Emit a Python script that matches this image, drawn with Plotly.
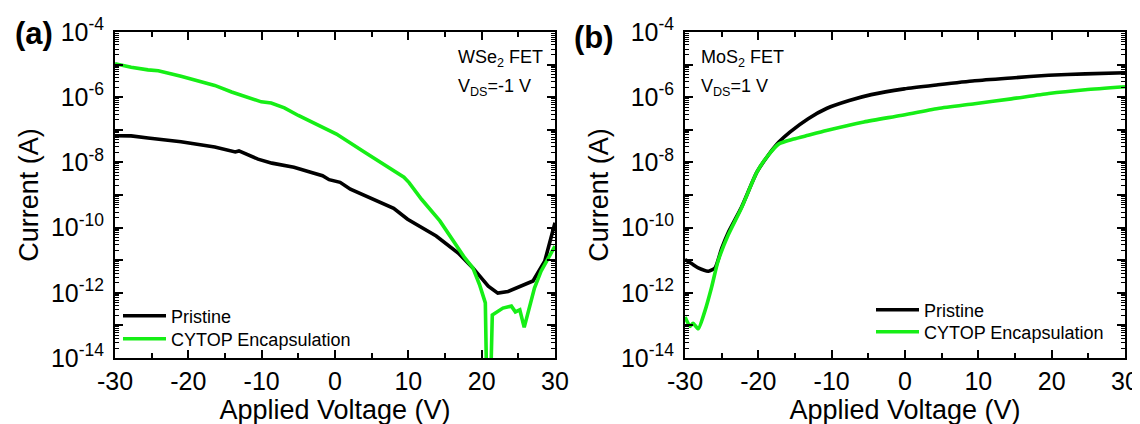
import plotly.graph_objects as go

# ---------------- data ----------------
# Panel (a): WSe2 FET, VDS = -1 V
a_pristine_v = [-30, -27.8, -25.5, -21.0, -16.4, -15.4, -13.6, -13.1, -12.0, -10.5, -8.6, -6.6, -5.6, -3.2,
                -1.7, -0.8, 0.7, 2.1, 4.1, 6.0, 8.0, 9.9, 11.8, 13.8, 16.8, 18.8, 20.9, 22.2, 23.6, 25.4,
                27.0, 28.6, 30]
a_pristine_i = [6.6e-8, 6.5e-8, 5.6e-8, 4.3e-8, 2.95e-8, 2.6e-8, 2.1e-8, 2.25e-8, 1.8e-8, 1.26e-8, 9.5e-9,
                7.9e-9, 7.1e-9, 4.9e-9, 3.9e-9, 2.95e-9, 2.45e-9, 1.5e-9, 9.3e-10, 6.2e-10, 3.9e-10,
                1.8e-10, 1.0e-10, 5.5e-11, 1.66e-11, 5.8e-12, 1.6e-12, 9.8e-13, 1.1e-12, 1.6e-12, 2.3e-12,
                9.3e-12, 1.4e-10]

a_cytop_v = [-30, -27.8, -25.5, -24.1, -21.0, -18.7, -16.4, -14.1, -11.9, -10.05, -8.7, -6.9, -5.0, -1.8,
             0.2, 4.1, 7.0, 9.4, 10.1, 11.8, 14.3, 16.2, 17.7, 18.8, 19.7, 20.5, 20.7, 21.2, 21.45, 22.9,
             24.05, 24.6, 25.2, 25.8, 26.5, 27.2, 28.1, 30]
a_cytop_i = [1.07e-5, 8.3e-6, 6.9e-6, 6.5e-6, 4.4e-6, 3.2e-6, 2.3e-6, 1.45e-6, 1.0e-6, 7.2e-7, 6.6e-7,
             4.7e-7, 2.75e-7, 1.2e-7, 7.4e-8, 2.0e-8, 7.9e-9, 3.5e-9, 2.4e-9, 7.4e-10, 1.6e-10, 3.5e-11,
             1.17e-11, 5.8e-12, 1.8e-12, 4.9e-13, 1e-15, 1e-15, 2.1e-13, 3.4e-13, 3.9e-13, 2.6e-13,
             3.0e-13, 8.7e-14, 3.4e-13, 1.4e-12, 4.6e-12, 2.7e-11]

# Panel (b): MoS2 FET, VDS = 1 V
b_pristine_v = [-30, -29, -28.2, -26.8, -25.9, -25.0, -24.1, -22.3, -20.2, -18.7, -17.2, -15.7, -13.2,
                -10.7, -7.6, -4.6, -0.1, 4.5, 9.5, 14.5, 19.6, 24.6, 30]
b_pristine_i = [1.05e-11, 7.6e-12, 5.8e-12, 4.6e-12, 5.8e-12, 2.3e-11, 7.1e-11, 4.2e-10, 5.0e-9, 1.6e-8,
                4.2e-8, 8.5e-8, 2.2e-7, 4.5e-7, 7.9e-7, 1.2e-6, 1.8e-6, 2.4e-6, 3.2e-6, 3.9e-6, 4.7e-6,
                5.2e-6, 5.6e-6]

b_cytop_v = [-30, -29.3, -28.9, -28.2, -27.3, -26.4, -25.5, -24.1, -22.3, -20.2, -18.7, -17.2, -15.2,
             -13.2, -10.7, -5.6, -0.6, 4.5, 9.5, 14.5, 19.6, 24.6, 30]
b_cytop_i = [1.8e-13, 9.3e-14, 1.17e-13, 7.9e-14, 2.7e-13, 1.4e-12, 9.3e-12, 6.0e-11, 4.0e-10, 5.0e-9,
             1.6e-8, 3.7e-8, 5.2e-8, 6.8e-8, 9.5e-8, 1.74e-7, 2.75e-7, 4.5e-7, 6.3e-7, 8.9e-7, 1.3e-6,
             1.7e-6, 2.1e-6]

series_names = ["Pristine", "CYTOP Encapsulation"]
x_ticks = [-30, -20, -10, 0, 10, 20, 30]
x_ticktext = ["-30", "-20", "-10", "0", "10", "20", "30"]
y_exponents = list(range(-14, -3))
x_title = "Applied Voltage (V)"
y_title = "Current (A)"

# ---------------- styling ----------------
FONT = "Liberation Sans, Arial, sans-serif"
BLACK = "#000000"
GREEN = "#16EE16"
LW = 3.6

fig = go.Figure()
fig.add_trace(go.Scatter(x=a_pristine_v, y=a_pristine_i, mode="lines", name=series_names[0],
                         line=dict(color=BLACK, width=LW), xaxis="x", yaxis="y", legend="legend"))
fig.add_trace(go.Scatter(x=a_cytop_v, y=a_cytop_i, mode="lines", name=series_names[1],
                         line=dict(color=GREEN, width=LW), xaxis="x", yaxis="y", legend="legend2"))
fig.add_trace(go.Scatter(x=b_pristine_v, y=b_pristine_i, mode="lines", name=series_names[0],
                         line=dict(color=BLACK, width=LW, shape="spline", smoothing=0.6),
                         xaxis="x2", yaxis="y2", legend="legend3"))
fig.add_trace(go.Scatter(x=b_cytop_v, y=b_cytop_i, mode="lines", name=series_names[1],
                         line=dict(color=GREEN, width=LW, shape="spline", smoothing=0.6),
                         xaxis="x2", yaxis="y2", legend="legend4"))

W, H = 1140, 424
ydom = [1 - 350 / H, 1 - 24 / H]
xdom_a = [107 / W, 547 / W]
xdom_b = [677 / W, 1117 / W]

y_tickvals = [10.0 ** e for e in y_exponents]
y_ticktext = [("10<sup>%d</sup>" % e) if e % 2 == 0 else "" for e in y_exponents]
minor_vals = [m * 10.0 ** e for e in range(-14, -4) for m in range(2, 10)]


def xaxis(dom, anchor):
    return dict(domain=dom, anchor=anchor, range=[-30, 30], tickmode="array", tickvals=x_ticks,
                ticktext=x_ticktext, automargin=False,
                ticks="inside", ticklen=8, tickwidth=1.5, tickcolor=BLACK,
                minor=dict(dtick=5, tick0=0, ticks="inside", ticklen=5, tickwidth=1.5, tickcolor=BLACK),
                showline=True, linecolor=BLACK, linewidth=2, mirror="ticks", showgrid=False,
                zeroline=False, tickfont=dict(family=FONT, size=25, color=BLACK),
                title=dict(text=x_title, font=dict(family=FONT, size=27, color=BLACK), standoff=2))


def yaxis(anchor):
    return dict(domain=ydom, anchor=anchor, type="log", range=[-14, -4], tickmode="array",
                tickvals=y_tickvals, ticktext=y_ticktext, automargin=False, ticklabelstandoff=4,
                ticks="inside", ticklen=8, tickwidth=1.5, tickcolor=BLACK,
                minor=dict(tickmode="array", tickvals=minor_vals, ticks="inside", ticklen=4,
                           tickwidth=1, tickcolor=BLACK),
                showline=True, linecolor=BLACK, linewidth=2, mirror="ticks", showgrid=False,
                zeroline=False, tickfont=dict(family=FONT, size=25, color=BLACK),
                title=dict(text=y_title, font=dict(family=FONT, size=27, color=BLACK), standoff=4))


def legend_at(px, py):
    return dict(x=px / W, y=1 - py / H, xanchor="left", yanchor="middle",
                font=dict(family=FONT, size=18, color=BLACK), bgcolor="rgba(0,0,0,0)",
                borderwidth=0, itemwidth=43)


def note(text, px, py, size=18, bold=False):
    return dict(text=("<b>%s</b>" % text) if bold else text, xref="paper", yref="paper",
                x=px / W, y=1 - py / H, xanchor="left", yanchor="middle", showarrow=False,
                font=dict(family=FONT, size=size, color=BLACK))


fig.update_layout(
    width=W, height=H, margin=dict(l=0, r=0, t=0, b=0, autoexpand=False),
    paper_bgcolor="white", plot_bgcolor="white",
    xaxis=xaxis(xdom_a, "y"), yaxis=yaxis("x"),
    xaxis2=xaxis(xdom_b, "y2"), yaxis2=yaxis("x2"),
    legend=legend_at(110, 308), legend2=legend_at(110, 331),
    legend3=legend_at(863, 302), legend4=legend_at(863, 324),
    showlegend=True,
    annotations=[
        note("(a)", 5, 25, size=31, bold=True),
        note("(b)", 564, 29, size=31, bold=True),
        note("WSe<sub>2</sub> FET", 448, 50),
        note("V<sub>DS</sub>=-1 V", 448, 80),
        note("MoS<sub>2</sub> FET", 691, 50),
        note("V<sub>DS</sub>=1 V", 691, 80),
    ],
)

fig.write_html("out.html")
